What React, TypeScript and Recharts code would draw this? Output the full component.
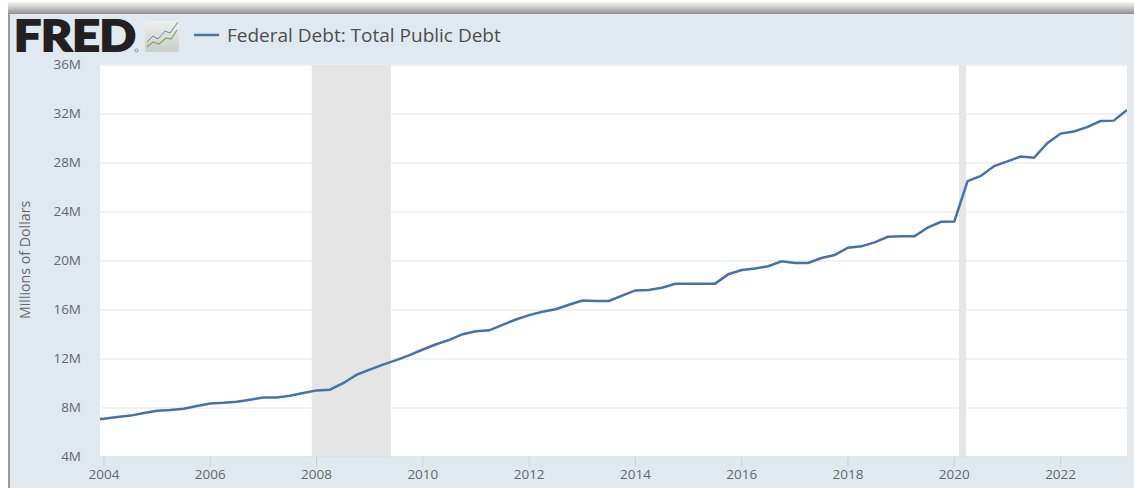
import { CartesianGrid, Line, LineChart, ReferenceArea, XAxis, YAxis } from "recharts";

// Quarterly total public debt, in millions of dollars
const quarters = [
  2003.75, 2004, 2004.25, 2004.5, 2004.75, 2005, 2005.25, 2005.5, 2005.75, 2006, 2006.25, 2006.5, 2006.75,
  2007, 2007.25, 2007.5, 2007.75, 2008, 2008.25, 2008.5, 2008.75, 2009, 2009.25, 2009.5, 2009.75,
  2010, 2010.25, 2010.5, 2010.75, 2011, 2011.25, 2011.5, 2011.75, 2012, 2012.25, 2012.5, 2012.75,
  2013, 2013.25, 2013.5, 2013.75, 2014, 2014.25, 2014.5, 2014.75, 2015, 2015.25, 2015.5, 2015.75,
  2016, 2016.25, 2016.5, 2016.75, 2017, 2017.25, 2017.5, 2017.75, 2018, 2018.25, 2018.5, 2018.75,
  2019, 2019.25, 2019.5, 2019.75, 2020, 2020.25, 2020.5, 2020.75, 2021, 2021.25, 2021.5, 2021.75,
  2022, 2022.25, 2022.5, 2022.75, 2023, 2023.25,
];
const debt = [
  6998000, 7131000, 7274000, 7379000, 7596000, 7776000, 7836000, 7933000, 8170000, 8371000, 8420000, 8507000, 8680000,
  8849000, 8867000, 9008000, 9229000, 9437000, 9492000, 10025000, 10700000, 11127000, 11545000, 11910000, 12311000,
  12773000, 13202000, 13562000, 14025000, 14270000, 14343000, 14790000, 15223000, 15582000, 15856000, 16066000, 16433000,
  16772000, 16738000, 16738000, 17170000, 17602000, 17633000, 17824000, 18141000, 18152000, 18152000, 18153000, 18922000,
  19265000, 19382000, 19573000, 19977000, 19846000, 19845000, 20245000, 20493000, 21090000, 21195000, 21516000, 21974000,
  22028000, 22023000, 22719000, 23201000, 23224000, 26520000, 26945000, 27748000, 28133000, 28529000, 28429000, 29617000,
  30401000, 30568000, 30929000, 31420000, 31458000, 32333000,
];
const yearTicks = [2004, 2006, 2008, 2010, 2012, 2014, 2016, 2018, 2020, 2022];
const debtTicks = [4e6, 8e6, 12e6, 16e6, 20e6, 24e6, 28e6, 32e6, 36e6];
const recessions = [
  [2007.91, 2009.4],
  [2020.09, 2020.22],
];

const rows = quarters.map((quarter, i) => ({ quarter, debt: debt[i] }));

const SANS = "'Open Sans', sans-serif";
const LINE_BLUE = "#4572a7";

function FredLogo() {
  return (
    <svg width={190} height={64} style={{ position: "absolute", left: 0, top: 0 }}>
      <defs>
        <linearGradient id="tile" x1="0" y1="0" x2="0" y2="1">
          <stop offset="0" stopColor="#eef0ee" />
          <stop offset="1" stopColor="#c9cdc9" />
        </linearGradient>
      </defs>
      <text
        x={14}
        y={51}
        fontFamily="Lato, sans-serif"
        fontWeight={900}
        fontSize={42}
        fill="#231f20"
        stroke="#231f20"
        strokeWidth={1.8}
        textLength={122}
        lengthAdjust="spacingAndGlyphs"
      >
        FRED
      </text>
      <circle cx={136.5} cy={50.5} r={1.6} fill="none" stroke="#555" strokeWidth={0.6} />
      <rect x={145} y={21} width={34} height={31} rx={2} fill="url(#tile)" />
      <polyline points="147,42 153,36 158,39 165,31 170,33 178,22" fill="none" stroke="#6d84a0" strokeWidth={1} />
      <polyline points="147,47 153,42 159,44 166,38 171,39 177,30" fill="none" stroke="#86a35c" strokeWidth={1.2} />
    </svg>
  );
}

export default function App() {
  return (
    <div style={{ position: "absolute", left: 0, top: 0, width: 1134, height: 488, overflow: "hidden", background: "#fff" }}>
      {/* panel, with the soft edge along its top and left */}
      <div
        style={{
          position: "absolute",
          left: 8,
          top: 2,
          width: 1126,
          height: 12,
          background: "linear-gradient(#f4f4f4 0%, #d6d6d6 35%, #9a9a9a 90%, #8c8c8c 100%)",
        }}
      />
      <div
        style={{
          position: "absolute",
          left: 8,
          top: 14,
          width: 1126,
          height: 474,
          background: "#e1e9f0",
          borderLeft: "2px solid #9b9b9b",
          boxSizing: "border-box",
        }}
      />

      <LineChart
        width={1134}
        height={488}
        data={rows}
        margin={{ top: 65, right: 7, bottom: 0, left: 0 }}
        style={{ position: "absolute", left: 0, top: 0 }}
      >
        <CartesianGrid horizontal vertical={false} stroke="#ececec" strokeWidth={1.5} fill="#fff" />
        <XAxis
          dataKey="quarter"
          type="number"
          domain={[2003.925, 2023.25]}
          allowDataOverflow
          ticks={yearTicks}
          height={31}
          tickLine={{ stroke: "#c0d0e0" }}
          axisLine={{ stroke: "#d5dee7" }}
          tickSize={10}
          tickMargin={2}
          tick={{ fontFamily: SANS, fontSize: 13.5, fill: "#666" }}
        />
        <YAxis
          type="number"
          domain={[4e6, 36e6]}
          ticks={debtTicks}
          width={100}
          axisLine={false}
          tickLine={false}
          tickMargin={19}
          tickSize={0}
          tickFormatter={(v: number) => `${v / 1e6}M`}
          tick={{ fontFamily: SANS, fontSize: 13.5, fill: "#666", dy: -1 }}
          label={{
            value: "Millions of Dollars",
            angle: -90,
            position: "insideLeft",
            offset: 0,
            dx: 25,
            dy: 58,
            style: { fontFamily: SANS, fontSize: 14.2, fill: "#666" },
          }}
        />
        {recessions.map(([start, end]) => (
          <ReferenceArea key={start} x1={start} x2={end} fill="#e5e5e5" fillOpacity={1} stroke="none" />
        ))}
        <Line
          dataKey="debt"
          type="linear"
          stroke={LINE_BLUE}
          strokeWidth={2.5}
          dot={false}
          activeDot={false}
          isAnimationActive={false}
        />
      </LineChart>

      <FredLogo />
      <svg width={330} height={30} style={{ position: "absolute", left: 190, top: 20 }}>
        <line x1={4} x2={29} y1={15} y2={15} stroke={LINE_BLUE} strokeWidth={2.5} />
        <text x={37} y={22} fontFamily={SANS} fontSize={19} fill="#4d4d4d">
          Federal Debt: Total Public Debt
        </text>
      </svg>
    </div>
  );
}
